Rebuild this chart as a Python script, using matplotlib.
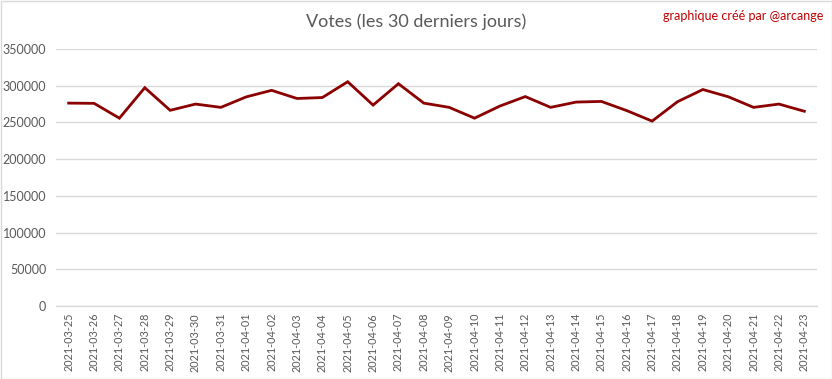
import matplotlib.pyplot as plt
from matplotlib.patches import Rectangle

dates = ["2021-03-25", "2021-03-26", "2021-03-27", "2021-03-28", "2021-03-29",
         "2021-03-30", "2021-03-31", "2021-04-01", "2021-04-02", "2021-04-03",
         "2021-04-04", "2021-04-05", "2021-04-06", "2021-04-07", "2021-04-08",
         "2021-04-09", "2021-04-10", "2021-04-11", "2021-04-12", "2021-04-13",
         "2021-04-14", "2021-04-15", "2021-04-16", "2021-04-17", "2021-04-18",
         "2021-04-19", "2021-04-20", "2021-04-21", "2021-04-22", "2021-04-23"]
votes = [276300, 276000, 255800, 297300, 266500, 275000, 270500, 284800, 293700, 282600,
         283900, 305400, 273600, 302700, 276300, 270500, 255800, 272300, 285200, 270500,
         277700, 278600, 266100, 251800, 278200, 294800, 285000, 270500, 275000, 265200]
yticks = [0, 50000, 100000, 150000, 200000, 250000, 300000, 350000]

plt.rcParams['font.family'] = ['Lato', 'DejaVu Sans']

fig = plt.figure(figsize=(8.32, 3.79), dpi=100)
ax = fig.add_axes([56/832, 1 - 306/379, 761/832, 257/379])

x = list(range(len(dates)))
ax.plot(x, votes, color='#8b0000', linewidth=2, solid_joinstyle='miter', zorder=3)

ax.set_xlim(-0.5, len(dates) - 0.5)
ax.set_ylim(0, 350000)
ax.set_yticks(yticks)
ax.set_yticklabels([str(v) for v in yticks], color='#595959', fontsize=9)
ax.set_xticks(x)
ax.set_xticklabels(dates, rotation=90, color='#595959', fontsize=7.8)
ax.tick_params(axis='y', length=0, pad=7)
ax.tick_params(axis='x', length=0, pad=5)
ax.grid(axis='y', color='#d9d9d9', linewidth=1)
ax.set_axisbelow(True)
for s in ['top', 'right', 'left']:
    ax.spines[s].set_visible(False)
ax.spines['bottom'].set_color('#d9d9d9')
ax.spines['bottom'].set_linewidth(1)

fig.text(416/832, 1 - 22/379, "Votes (les 30 derniers jours)", ha='center', va='center',
         fontsize=13, color='#595959')
fig.text(823/832, 1 - 16/379, "graphique créé par @arcange", ha='right', va='center',
         fontsize=9, color='#c00000')

fig.patches.append(Rectangle((0.5/832, 0.5/379), 1 - 1/832, 1 - 1/379, transform=fig.transFigure,
                             fill=False, edgecolor='#d9d9d9', linewidth=1))

fig.savefig("out.png", dpi=100)
